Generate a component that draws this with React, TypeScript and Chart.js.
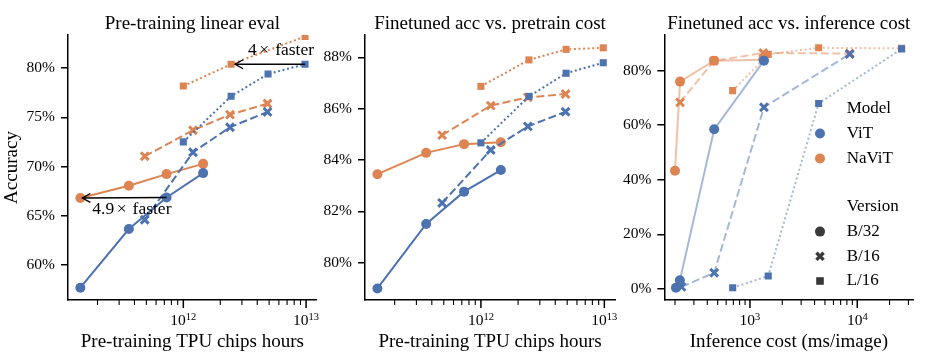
import React, { useEffect, useRef } from 'react';
import { Chart, registerables } from 'chart.js';
Chart.register(...registerables);

const FONT = '"Liberation Serif", "Times New Roman", serif';
const BLUE = '#4C72B0';
const ORANGE = '#DD8452';
const BLUE_FADED = 'rgba(76,114,176,0.5)';
const ORANGE_FADED = 'rgba(221,132,82,0.5)';

// ---- Pre-training cost (TPU chip hours) ----
const PRETRAIN_COST_B32 = [1.45e11, 3.6e11, 7.3e11, 1.45e12];
const PRETRAIN_COST_B16 = [4.85e11, 1.2e12, 2.4e12, 4.85e12];
const PRETRAIN_COST_L16 = [1.0e12, 2.45e12, 4.9e12, 9.8e12];

// ---- Panel 1: pre-training linear eval accuracy (%) ----
const VIT_LINEAR_B32 = [57.7, 63.65, 66.86, 69.33];
const NAVIT_LINEAR_B32 = [66.8, 68.04, 69.23, 70.27];
const VIT_LINEAR_B16 = [64.6, 71.45, 73.99, 75.54];
const NAVIT_LINEAR_B16 = [71.04, 73.68, 75.27, 76.39];
const VIT_LINEAR_L16 = [72.5, 77.13, 79.39, 80.38];
const NAVIT_LINEAR_L16 = [78.17, 80.38, null, 83.2];

// ---- Panel 2: finetuned accuracy (%) ----
const VIT_FT_B32 = [79.0, 81.51, 82.77, 83.61];
const NAVIT_FT_B32 = [83.45, 84.28, 84.62, 84.69];
const VIT_FT_B16 = [82.33, 84.39, 85.31, 85.88];
const NAVIT_FT_B16 = [84.97, 86.12, 86.44, 86.57];
const VIT_FT_L16 = [84.67, 86.48, 87.38, 87.79];
const NAVIT_FT_L16 = [86.87, 87.9, 88.31, 88.37];

// ---- Panel 3: inference cost (ms/image) and finetuned accuracy (%) ----
const VIT_INF_COST_B32 = [204, 222, 464, 1350];
const VIT_INF_ACC_B32 = [0.4, 3.1, 58.5, 83.7];
const VIT_INF_COST_B16 = [230, 464, 1350, 8500];
const VIT_INF_ACC_B16 = [0.7, 5.9, 66.6, 86.1];
const VIT_INF_COST_L16 = [690, 1480, 4370, 25900];
const VIT_INF_ACC_L16 = [0.4, 4.7, 68.0, 88.0];
const NAVIT_INF_COST_B32 = [200, 223, 462, 1330];
const NAVIT_INF_ACC_B32 = [43.3, 76.0, 83.7, 84.0];
const NAVIT_INF_COST_B16 = [223, 462, 1330, 8500];
const NAVIT_INF_ACC_B16 = [68.4, 83.6, 86.5, 86.3];
const NAVIT_INF_COST_L16 = [690, 1480, 4370, 25900];
const NAVIT_INF_ACC_L16 = [72.7, 86.0, 88.4, 88.2];

// ---- ticks / labels ----
const Y_TICKS_LINEAR = [60, 65, 70, 75, 80];
const Y_TICKS_FT = [80, 82, 84, 86, 88];
const Y_TICKS_INF = [0, 20, 40, 60, 80];
const MODEL_NAMES = ['ViT', 'NaViT'];
const VERSION_NAMES = ['B/32', 'B/16', 'L/16'];
const TITLES = ['Pre-training linear eval', 'Finetuned acc vs. pretrain cost', 'Finetuned acc vs. inference cost'];
const X_LABELS = ['Pre-training TPU chips hours', 'Pre-training TPU chips hours', 'Inference cost (ms/image)'];
const Y_LABEL = 'Accuracy';
const ANNOT_4X = ['4', '×', 'faster'];
const ANNOT_49X = ['4.9', '×', 'faster'];

function series(xs: number[], ys: (number | null)[], color: string, version: string, lineColor?: string) {
  return {
    data: xs.map((x, i) => ({ x, y: ys[i] })),
    showLine: true,
    spanGaps: true,
    borderColor: lineColor || color,
    borderWidth: 2,
    borderDash: version === 'B/16' ? [8, 3.5] : version === 'L/16' ? [2, 2.6] : [],
    pointStyle: version === 'B/32' ? 'circle' : version === 'B/16' ? 'crossRot' : 'rect',
    pointRadius: version === 'B/32' ? 5 : version === 'B/16' ? 5.5 : 5,
    pointBackgroundColor: color,
    pointBorderColor: color,
    pointBorderWidth: version === 'B/16' ? 3 : 0,
    pointHoverRadius: 0,
    clip: 0,
  };
}

function logTicks(min: number, max: number) {
  const out: { value: number }[] = [];
  for (let e = Math.floor(Math.log10(min)); e <= Math.ceil(Math.log10(max)); e++) {
    for (let m = 1; m <= 9; m++) {
      const v = m * Math.pow(10, e);
      if (v >= min && v <= max) out.push({ value: v });
    }
  }
  return out;
}

function drawArrow(ctx: CanvasRenderingContext2D, fx: number, fy: number, tx: number, ty: number) {
  const ang = Math.atan2(ty - fy, tx - fx);
  ctx.beginPath();
  ctx.moveTo(fx, fy);
  ctx.lineTo(tx, ty);
  ctx.stroke();
  const hl = 8, hw = 4.5;
  const bx = tx - hl * Math.cos(ang), by = ty - hl * Math.sin(ang);
  const nx = -Math.sin(ang), ny = Math.cos(ang);
  ctx.beginPath();
  ctx.moveTo(bx + nx * hw, by + ny * hw);
  ctx.lineTo(tx, ty);
  ctx.lineTo(bx - nx * hw, by - ny * hw);
  ctx.stroke();
}

function drawTimesText(ctx: CanvasRenderingContext2D, parts: string[], x: number, y: number, align: 'left' | 'right') {
  const g1 = 2.5, g2 = 6;
  const w0 = ctx.measureText(parts[0]).width;
  const w1 = ctx.measureText(parts[1]).width;
  const w2 = ctx.measureText(parts[2]).width;
  const total = w0 + g1 + w1 + g2 + w2;
  let cx = align === 'left' ? x : x - total;
  ctx.textAlign = 'left';
  ctx.fillText(parts[0], cx, y);
  cx += w0 + g1;
  ctx.fillText(parts[1], cx, y);
  cx += w1 + g2;
  ctx.fillText(parts[2], cx, y);
}

function drawMarker(ctx: CanvasRenderingContext2D, kind: string, x: number, y: number, color: string) {
  ctx.save();
  ctx.fillStyle = color;
  ctx.strokeStyle = color;
  if (kind === 'B/32') {
    ctx.beginPath();
    ctx.arc(x, y, 5, 0, Math.PI * 2);
    ctx.fill();
  } else if (kind === 'B/16') {
    ctx.lineWidth = 3.4;
    const a = 3.6;
    ctx.beginPath();
    ctx.moveTo(x - a, y - a); ctx.lineTo(x + a, y + a);
    ctx.moveTo(x - a, y + a); ctx.lineTo(x + a, y - a);
    ctx.stroke();
  } else {
    ctx.fillRect(x - 3.8, y - 3.8, 7.6, 7.6);
  }
  ctx.restore();
}

type PanelSpec = {
  idx: number;
  datasets: any[];
  xMin: number; xMax: number;
  yMin: number; yMax: number;
  yTicks: number[];
  yWidth: number;
  padRight: number;
  extra?: (chart: any) => void;
};

function makeConfig(p: PanelSpec): any {
  const decor = {
    id: 'decor' + p.idx,
    afterDraw(chart: any) {
      const ctx: CanvasRenderingContext2D = chart.ctx;
      const ca = chart.chartArea;
      const sx = chart.scales.x;
      ctx.save();
      ctx.strokeStyle = '#000';
      ctx.fillStyle = '#000';
      for (const t of sx.ticks) {
        const e = Math.log10(t.value);
        const major = Math.abs(e - Math.round(e)) < 1e-9;
        const px = sx.getPixelForValue(t.value);
        ctx.lineWidth = major ? 1.5 : 1.1;
        ctx.beginPath();
        ctx.moveTo(px, ca.bottom);
        ctx.lineTo(px, ca.bottom + (major ? 8 : 5));
        ctx.stroke();
        if (major) {
          const base = '10';
          const exp = String(Math.round(e));
          ctx.font = `15.5px ${FONT}`;
          const wb = ctx.measureText(base).width;
          ctx.font = `10.5px ${FONT}`;
          const we = ctx.measureText(exp).width;
          const x0 = px - (wb + we) / 2;
          ctx.textAlign = 'left';
          ctx.textBaseline = 'alphabetic';
          ctx.font = `15.5px ${FONT}`;
          ctx.fillText(base, x0, ca.bottom + 25);
          ctx.font = `10.5px ${FONT}`;
          ctx.fillText(exp, x0 + wb, ca.bottom + 19.5);
        }
      }
      const cx = (ca.left + ca.right) / 2;
      ctx.font = `19px ${FONT}`;
      ctx.textAlign = 'center';
      ctx.textBaseline = 'alphabetic';
      ctx.fillText(TITLES[p.idx], cx, 28.5);
      ctx.fillText(X_LABELS[p.idx], cx, 347);
      ctx.restore();
      if (p.extra) p.extra(chart);
    },
  };
  return {
    type: 'scatter',
    data: { datasets: p.datasets },
    plugins: [decor],
    options: {
      responsive: false,
      animation: false,
      devicePixelRatio: 1,
      events: [],
      layout: { padding: { top: 35, right: p.padRight, left: 0, bottom: 0 } },
      plugins: { legend: { display: false }, tooltip: { enabled: false }, title: { display: false } },
      scales: {
        x: {
          type: 'logarithmic',
          min: p.xMin,
          max: p.xMax,
          afterBuildTicks: (s: any) => { s.ticks = logTicks(s.min, s.max); },
          afterFit: (s: any) => { s.height = 58; },
          grid: { display: false },
          border: { display: true, color: '#000', width: 1.5 },
          ticks: { display: false },
        },
        y: {
          type: 'linear',
          min: p.yMin,
          max: p.yMax,
          afterBuildTicks: (s: any) => { s.ticks = p.yTicks.map((v) => ({ value: v })); },
          afterFit: (s: any) => { s.width = p.yWidth; },
          grid: { display: true, drawOnChartArea: false, drawTicks: true, tickLength: 7, color: '#000', lineWidth: 1.5 },
          border: { display: true, color: '#000', width: 1.5 },
          ticks: {
            color: '#000',
            padding: 6,
            font: { family: FONT, size: 15.5 },
            callback: (v: any) => v + '%',
          },
        },
      },
    },
  };
}

const panel1Extra = (chart: any) => {
  const ctx: CanvasRenderingContext2D = chart.ctx;
  const ca = chart.chartArea;
  const sx = chart.scales.x, sy = chart.scales.y;
  ctx.save();
  ctx.fillStyle = '#000';
  ctx.font = `19px ${FONT}`;
  ctx.textAlign = 'center';
  ctx.textBaseline = 'alphabetic';
  ctx.translate(16.5, (ca.top + ca.bottom) / 2);
  ctx.rotate(-Math.PI / 2);
  ctx.fillText(Y_LABEL, 0, 0);
  ctx.restore();

  ctx.save();
  ctx.strokeStyle = '#000';
  ctx.fillStyle = '#000';
  ctx.lineWidth = 1.4;
  ctx.font = `17.5px ${FONT}`;
  ctx.textBaseline = 'alphabetic';
  // 4x faster: ViT L/16 largest -> NaViT L/16 second
  const t1x = sx.getPixelForValue(PRETRAIN_COST_L16[3]);
  const t1y = sy.getPixelForValue(VIT_LINEAR_L16[3]);
  const h1x = sx.getPixelForValue(PRETRAIN_COST_L16[1]);
  const h1y = sy.getPixelForValue(NAVIT_LINEAR_L16[1] as number);
  drawArrow(ctx, t1x, t1y, h1x + 4, h1y);
  drawTimesText(ctx, ANNOT_4X, t1x + 9, t1y - 9, 'right');
  // 4.9x faster: ViT B/32 third -> NaViT B/32 first
  const t2x = sx.getPixelForValue(PRETRAIN_COST_B32[2]);
  const t2y = sy.getPixelForValue(VIT_LINEAR_B32[2]);
  const h2x = sx.getPixelForValue(PRETRAIN_COST_B32[0]);
  const h2y = sy.getPixelForValue(NAVIT_LINEAR_B32[0]);
  drawArrow(ctx, t2x, t2y, h2x + 2, h2y);
  drawTimesText(ctx, ANNOT_49X, h2x + 12, t2y + 17, 'left');
  ctx.restore();
};

const panel3Extra = (chart: any) => {
  const ctx: CanvasRenderingContext2D = chart.ctx;
  const ca = chart.chartArea;
  const mx = ca.right - 93.3;
  const tx = ca.right - 66.6;
  ctx.save();
  ctx.fillStyle = '#000';
  ctx.font = `17px ${FONT}`;
  ctx.textAlign = 'left';
  ctx.textBaseline = 'middle';
  let y = ca.top + 73.5;
  ctx.fillText('Model', tx, y);
  const modelColors = [BLUE, ORANGE];
  MODEL_NAMES.forEach((name, i) => {
    y += 25;
    drawMarker(ctx, 'B/32', mx, y, modelColors[i]);
    ctx.fillText(name, tx, y);
  });
  y += 48.4;
  ctx.fillText('Version', tx, y);
  VERSION_NAMES.forEach((name) => {
    y += 24.7;
    drawMarker(ctx, name, mx, y, '#3a3a3a');
    ctx.fillText(name, tx, y);
  });
  ctx.restore();
};

const CONFIGS = [
  makeConfig({
    idx: 0,
    datasets: [
      series(PRETRAIN_COST_B32, VIT_LINEAR_B32, BLUE, 'B/32'),
      series(PRETRAIN_COST_B16, VIT_LINEAR_B16, BLUE, 'B/16'),
      series(PRETRAIN_COST_L16, VIT_LINEAR_L16, BLUE, 'L/16'),
      series(PRETRAIN_COST_B32, NAVIT_LINEAR_B32, ORANGE, 'B/32'),
      series(PRETRAIN_COST_B16, NAVIT_LINEAR_B16, ORANGE, 'B/16'),
      series(PRETRAIN_COST_L16, NAVIT_LINEAR_L16, ORANGE, 'L/16'),
    ],
    xMin: 1.15e11, xMax: 1.22e13,
    yMin: 56.45, yMax: 83.35,
    yTicks: Y_TICKS_LINEAR,
    yWidth: 68,
    padRight: 13.3,
    extra: panel1Extra,
  }),
  makeConfig({
    idx: 1,
    datasets: [
      series(PRETRAIN_COST_B32, VIT_FT_B32, BLUE, 'B/32'),
      series(PRETRAIN_COST_B16, VIT_FT_B16, BLUE, 'B/16'),
      series(PRETRAIN_COST_L16, VIT_FT_L16, BLUE, 'L/16'),
      series(PRETRAIN_COST_B32, NAVIT_FT_B32, ORANGE, 'B/32'),
      series(PRETRAIN_COST_B16, NAVIT_FT_B16, ORANGE, 'B/16'),
      series(PRETRAIN_COST_L16, NAVIT_FT_L16, ORANGE, 'L/16'),
    ],
    xMin: 1.15e11, xMax: 1.22e13,
    yMin: 78.55, yMax: 88.87,
    yTicks: Y_TICKS_FT,
    yWidth: 47,
    padRight: 15,
  }),
  makeConfig({
    idx: 2,
    datasets: [
      series(VIT_INF_COST_B32, VIT_INF_ACC_B32, BLUE, 'B/32', BLUE_FADED),
      series(VIT_INF_COST_B16, VIT_INF_ACC_B16, BLUE, 'B/16', BLUE_FADED),
      series(VIT_INF_COST_L16, VIT_INF_ACC_L16, BLUE, 'L/16', BLUE_FADED),
      series(NAVIT_INF_COST_B32, NAVIT_INF_ACC_B32, ORANGE, 'B/32', ORANGE_FADED),
      series(NAVIT_INF_COST_B16, NAVIT_INF_ACC_B16, ORANGE, 'B/16', ORANGE_FADED),
      series(NAVIT_INF_COST_L16, NAVIT_INF_ACC_L16, ORANGE, 'L/16', ORANGE_FADED),
    ],
    xMin: 159, xMax: 33300,
    yMin: -4.1, yMax: 93.1,
    yTicks: Y_TICKS_INF,
    yWidth: 46.3,
    padRight: 27.7,
    extra: panel3Extra,
  }),
];

const CANVAS_BOXES = [
  { left: 0, width: 330 },
  { left: 318, width: 312 },
  { left: 618, width: 323 },
];

export default function App() {
  const r1 = useRef<HTMLCanvasElement>(null);
  const r2 = useRef<HTMLCanvasElement>(null);
  const r3 = useRef<HTMLCanvasElement>(null);
  useEffect(() => {
    const refs = [r1, r2, r3];
    const charts = refs.map((r, i) => new Chart(r.current as HTMLCanvasElement, CONFIGS[i]));
    return () => charts.forEach((c) => c.destroy());
  }, []);
  const refs = [r1, r2, r3];
  return (
    <div style={{ position: 'absolute', left: 0, top: 0, width: 941, height: 358, background: '#fff', overflow: 'hidden' }}>
      {CANVAS_BOXES.map((b, i) => (
        <canvas
          key={i}
          ref={refs[i]}
          width={b.width}
          height={358}
          style={{ position: 'absolute', left: b.left, top: 0, width: b.width, height: 358 }}
        />
      ))}
    </div>
  );
}
